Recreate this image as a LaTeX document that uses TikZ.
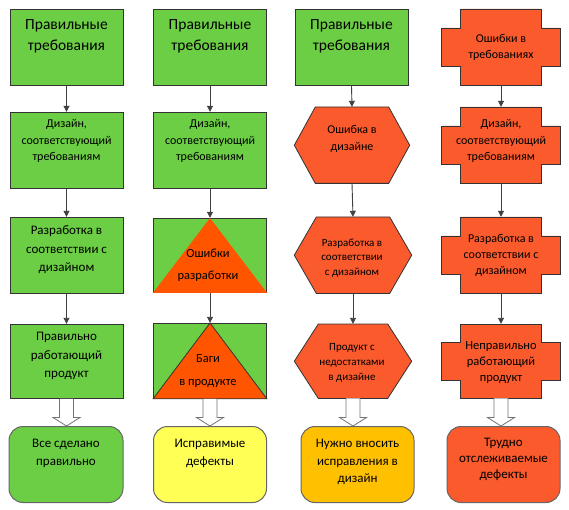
\documentclass[tikz,border=0pt]{standalone}
\usepackage{fontspec}
\setmainfont{Carlito}
\usetikzlibrary{calc,arrows.meta}
\definecolor{gr}{RGB}{108,206,68}
\definecolor{orn}{RGB}{255,85,0}
\definecolor{rd}{RGB}{250,90,44}
\definecolor{yl}{RGB}{255,255,85}
\definecolor{amb}{RGB}{255,192,0}
\tikzset{
  sz/.style={minimum width=113pt, minimum height=76pt, inner sep=0pt, anchor=north},
  gbox/.style={sz, draw=black!80, fill=gr, line width=0.8pt},
  frm/.style={sz, draw=none},
  shp/.style={draw=black!80, fill=rd, line width=0.8pt},
  rbox/.style={sz, draw=black!60, line width=1pt, rounded corners=14pt},
  txt/.style={align=center, inner sep=0pt, text=black},
  arr/.style={draw=black!75, line width=0.9pt, -{Triangle[length=6pt,width=6pt]}, shorten >=0.2pt},
  blk/.style={draw=black!55, fill=white, line width=0.8pt},
  fA/.style={font=\fontsize{15.5}{21}\selectfont},
  fB/.style={font=\fontsize{12}{16.5}\selectfont},
  fC/.style={font=\fontsize{13}{18.5}\selectfont},
  fD/.style={font=\fontsize{11}{14.5}\selectfont},
}
\newcommand\myhex[2]{\draw[shp] (#1.west) -- ($(#1.north west)+(#2,0)$) -- ($(#1.north east)+(-#2,0)$) -- (#1.east) -- ($(#1.south east)+(-#2,0)$) -- ($(#1.south west)+(#2,0)$) -- cycle;}
\newcommand\mycross[3]{\draw[shp] ($(#1.north west)+(#2,0)$) -- ($(#1.north east)+(-#2,0)$) -- ($(#1.north east)+(-#2,#3)$) -- ($(#1.north east)+(0,#3)$) -- ($(#1.south east)+(0,-#3)$) -- ($(#1.south east)+(-#2,-#3)$) -- ($(#1.south east)+(-#2,0)$) -- ($(#1.south west)+(#2,0)$) -- ($(#1.south west)+(#2,-#3)$) -- ($(#1.south west)+(0,-#3)$) -- ($(#1.north west)+(0,#3)$) -- ($(#1.north west)+(#2,#3)$) -- cycle;}
\newcommand\blkarrow[2]{\draw[blk] let \p1=(#1.south), \p2=(#2.north) in (\x1-7pt,\y1) -- (\x1-7pt,\y2+8.5pt) -- (\x1-13.5pt,\y2+8.5pt) -- (\x1,\y2) -- (\x1+13.5pt,\y2+8.5pt) -- (\x1+7pt,\y2+8.5pt) -- (\x1+7pt,\y1);}
\begin{document}
\begin{tikzpicture}[x=1pt,y=-1pt]
\useasboundingbox[fill=white] (0,0) rectangle (569,510);
% ---------- column 1
\node[gbox] (a1) at (66.5,9) {};
\node[gbox] (a2) at (66.5,112) {};
\node[gbox] (a3) at (66.5,217) {};
\node[gbox, minimum height=74pt] (a4) at (66.5,324) {};
\node[rbox, fill=gr, minimum width=114pt] (a5) at (66,426) {};
% ---------- column 2
\node[gbox] (b1) at (210,9) {};
\node[gbox] (b2) at (210,112) {};
\node[gbox, minimum height=74pt] (b3) at (210,218) {};
\fill[orn] (b3.north) -- (b3.south east) -- (b3.south west) -- cycle;
\draw[orn, line width=0.9pt] (b3.south west) -- (b3.south east);
\node[gbox, minimum height=75pt] (b4) at (210,323) {};
\filldraw[fill=orn, draw=black!80, line width=0.8pt] (b4.north) -- (b4.south east) -- (b4.south west) -- cycle;
\node[rbox, fill=yl] (b5) at (210,426) {};
% ---------- column 3
\node[gbox] (c1) at (351.5,9) {};
\node[frm, minimum width=115pt] (c2) at (352,107) {};
\myhex{c2}{21}
\node[frm, minimum width=117pt] (c3) at (353,217) {};
\myhex{c3}{22}
\node[frm, minimum width=117pt, minimum height=74pt] (c4) at (353,324) {};
\myhex{c4}{24}
\node[rbox, fill=amb] (c5) at (357.5,426) {};
% ---------- column 4
\node[frm, minimum width=118pt] (d1) at (501,9) {};
\mycross{d1}{19}{19}
\node[frm, minimum width=118pt] (d2) at (501,107) {};
\mycross{d2}{19}{19}
\node[frm, minimum width=118pt] (d3) at (501,217) {};
\mycross{d3}{19}{19}
\node[frm, minimum width=118pt, minimum height=74pt] (d4) at (501,324) {};
\mycross{d4}{19}{18}
\node[rbox, fill=rd, minimum width=113pt] (d5) at (503.5,426) {};
% ---------- thin arrows
\foreach \c in {a,b,c,d}{
  \draw[arr] (\c1.south) -- (\c2.north);
  \draw[arr] (\c2.south) -- (\c3.north);
  \draw[arr] (\c3.south) -- (\c4.north);
}
% ---------- block arrows
\blkarrow{a4}{a5}
\blkarrow{b4}{b5}
\blkarrow{c4}{c5}
\blkarrow{d4}{d5}
% ---------- texts column 1
\node[txt, fA] (ta1) at (66.5,36) {Правильные\\требования};
\node[txt, fB] (ta2) at (66.5,141) {Дизайн,\\соответствующий\\требованиям};
\node[txt, fC] (ta3) at (66.5,250) {Разработка в\\соответствии с\\дизайном};
\node[txt, fC] (ta4) at (66.5,356) {Правильно\\работающий\\продукт};
\node[txt, font=\fontsize{13}{18}\selectfont] (ta5) at (66,453) {Все сделано\\правильно};
% ---------- texts column 2
\node[txt, fA] (tb1) at (210,36) {Правильные\\требования};
\node[txt, fB] (tb2) at (210,141) {Дизайн,\\соответствующий\\требованиям};
\node[txt, font=\fontsize{12.5}{22}\selectfont] (tb3) at (208,265) {Ошибки\\разработки};
\node[txt, font=\fontsize{12.5}{23}\selectfont] (tb4) at (208,371) {Баги\\в продукте};
\node[txt, font=\fontsize{13}{18}\selectfont] (tb5) at (210,453) {Исправимые\\дефекты};
% ---------- texts column 3
\node[txt, fA] (tc1) at (351.5,36) {Правильные\\требования};
\node[txt, font=\fontsize{12}{17}\selectfont] (tc2) at (352,139) {Ошибка в\\дизайне};
\node[txt, fD] (tc3) at (352,258) {Разработка в\\соответствии\\с дизайном};
\node[txt, font=\fontsize{11}{15}\selectfont] (tc4) at (352,363) {Продукт с\\недостатками\\в дизайне};
\node[txt, font=\fontsize{13}{17.5}\selectfont] (tc5) at (357.5,462) {Нужно вносить\\исправления в\\дизайн};
% ---------- texts column 4
\node[txt, font=\fontsize{12}{16}\selectfont] (td1) at (501,47) {Ошибки в\\требованиях};
\node[txt, fB] (td2) at (501,141) {Дизайн,\\соответствующий\\требованиям};
\node[txt, font=\fontsize{12}{16}\selectfont] (td3) at (501,255) {Разработка в\\соответствии с\\дизайном};
\node[txt, font=\fontsize{12.5}{16}\selectfont] (td4) at (501,363) {Неправильно\\работающий\\продукт};
\node[txt, font=\fontsize{13}{16}\selectfont] (td5) at (503.5,459) {Трудно\\отслеживаемые\\дефекты};
\end{tikzpicture}
\end{document}
